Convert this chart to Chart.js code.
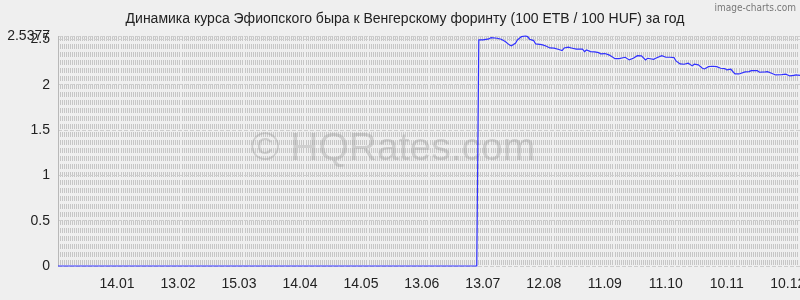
<!DOCTYPE html>
<html>
<head>
<meta charset="utf-8">
<script src="https://cdn.jsdelivr.net/npm/chart.js@4.4.0/dist/chart.umd.min.js"></script>
<style>
  html, body { margin: 0; padding: 0; background: #efefef; }
  #wrap { width: 800px; height: 300px; }
</style>
</head>
<body>
<div id="wrap"><canvas id="chart" width="800" height="300"></canvas></div>
<script>
const title = "Динамика курса Эфиопского быра к Венгерскому форинту (100 ETB / 100 HUF) за год";

// day index since 16.12 of the previous year
const days = [0, 206, 207, 209, 212, 213, 216, 218, 220, 222, 223, 225, 226, 228, 230, 231, 232, 234, 235, 238,
  240, 242, 244, 246, 248, 249, 251, 253, 255, 258, 259, 260, 262, 264, 266, 267, 269, 271, 272, 274,
  276, 279, 281, 283, 285, 287, 289, 290, 293, 294, 297, 299, 301, 303, 304, 306, 308, 310, 312, 313,
  315, 317, 318, 320, 322, 324, 326, 328, 329, 331, 332, 333, 335, 338, 340, 341, 344, 345, 348, 349,
  351, 353, 356, 358, 360, 362, 363, 365];
const rates = [0, 0, 2.494, 2.494, 2.505, 2.52, 2.513, 2.502, 2.476, 2.44, 2.43, 2.458, 2.494, 2.531, 2.5377, 2.531, 2.502, 2.487, 2.45, 2.443,
  2.428, 2.406, 2.403, 2.392, 2.376, 2.406, 2.414, 2.403, 2.392, 2.392, 2.366, 2.384, 2.366, 2.362, 2.354, 2.34, 2.344, 2.329, 2.318, 2.288,
  2.288, 2.303, 2.274, 2.292, 2.321, 2.318, 2.274, 2.292, 2.281, 2.292, 2.321, 2.303, 2.303, 2.3, 2.263, 2.23, 2.226, 2.237, 2.208, 2.226,
  2.219, 2.182, 2.174, 2.2, 2.204, 2.2, 2.182, 2.178, 2.163, 2.171, 2.145, 2.119, 2.119, 2.141, 2.145, 2.156, 2.156, 2.138, 2.141, 2.145,
  2.127, 2.108, 2.112, 2.116, 2.097, 2.104, 2.108, 2.104];

const tickDays = [29, 59, 89, 119, 149, 179, 209, 239, 269, 299, 329, 359];
const tickLabels = ["14.01", "13.02", "15.03", "14.04", "14.05", "13.06", "13.07", "12.08", "11.09", "11.10", "10.11", "10.12"];
const yTicks = [0, 0.5, 1, 1.5, 2, 2.5, 2.5377];

// background, title, watermark, solid left axis line
const decor = {
  id: "decor",
  beforeDraw(chart) {
    const ctx = chart.ctx;
    ctx.save();
    ctx.fillStyle = "#efefef";
    ctx.fillRect(0, 0, chart.width, chart.height);
    ctx.fillStyle = "#222";
    ctx.font = "14px 'Liberation Sans', Arial, sans-serif";
    ctx.textAlign = "center";
    ctx.textBaseline = "middle";
    ctx.fillText(title, 405, 19);
    ctx.fillStyle = "#777";
    ctx.font = "10px 'DejaVu Sans Condensed', 'DejaVu Sans', sans-serif";
    ctx.textAlign = "right";
    ctx.fillText("image-charts.com", 796, 8);
    ctx.restore();
  },
  beforeDatasetsDraw(chart) {
    const ctx = chart.ctx;
    const a = chart.chartArea;
    ctx.save();
    ctx.fillStyle = "rgba(150,150,150,0.35)";
    ctx.font = "39px 'Liberation Sans', Arial, sans-serif";
    ctx.textAlign = "center";
    ctx.textBaseline = "middle";
    ctx.fillText("© HQRates.com", 393, 149);
    ctx.strokeStyle = "#b8b8b8";
    ctx.lineWidth = 1;
    ctx.beginPath();
    ctx.moveTo(a.left + 0.5, a.top);
    ctx.lineTo(a.left + 0.5, a.bottom);
    ctx.stroke();
    ctx.restore();
  }
};

new Chart(document.getElementById("chart"), {
  type: "line",
  data: {
    datasets: [{
      data: days.map((d, i) => ({ x: d, y: rates[i] })),
      borderColor: "#3030ff",
      borderWidth: 1.2,
      pointRadius: 0,
      tension: 0,
      fill: false,
      clip: 4
    }]
  },
  options: {
    responsive: false,
    animation: false,
    layout: { padding: { top: 36, left: 0, right: 0, bottom: 0 } },
    plugins: { legend: { display: false }, tooltip: { enabled: false } },
    scales: {
      x: {
        type: "linear",
        min: 0,
        max: 365,
        afterFit(s) { s.height = 34; s.paddingLeft = 0; s.paddingRight = 0; },
        ticks: {
          stepSize: 1,
          autoSkip: false,
          maxRotation: 0,
          minRotation: 0,
          padding: 10,
          color: "#222",
          font: { size: 14, family: "'Liberation Sans', Arial, sans-serif" },
          callback(v) {
            const k = tickDays.indexOf(v);
            return k >= 0 ? tickLabels[k] : "";
          }
        },
        grid: { color: "#c6c6c6", drawTicks: false },
        border: { display: false, dash: [5, 3] }
      },
      y: {
        min: 0,
        max: 2.5377,
        afterFit(s) { s.width = 58; s.paddingTop = 0; s.paddingBottom = 0; },
        afterBuildTicks(s) { s.ticks = yTicks.map(v => ({ value: v })); },
        ticks: {
          padding: 8,
          color: "#222",
          font: { size: 14, family: "'Liberation Sans', Arial, sans-serif" },
          callback(v) { return String(v); }
        },
        grid: { color: "#cfcfcf", drawTicks: false },
        border: { display: false, dash: [4, 2] }
      }
    }
  },
  plugins: [decor]
});
</script>
</body>
</html>
